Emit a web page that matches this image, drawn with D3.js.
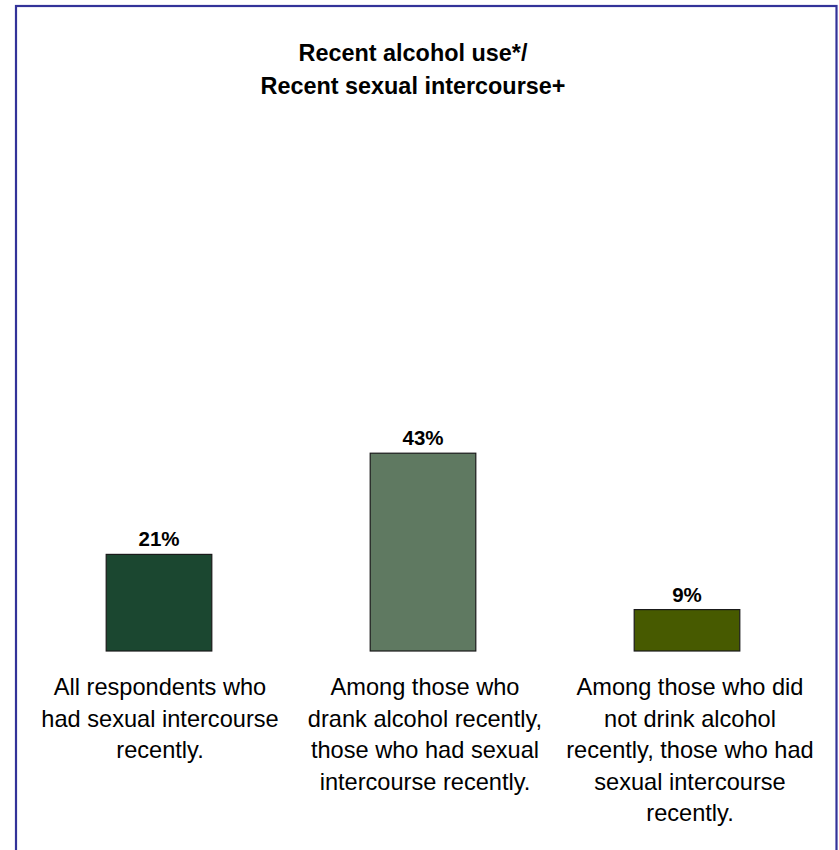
<!DOCTYPE html>
<html>
<head>
<meta charset="utf-8">
<script src="https://cdn.jsdelivr.net/npm/d3@7"></script>
<style>
  html, body { margin: 0; padding: 0; background: #fff; }
  svg { display: block; }
</style>
</head>
<body>
<svg id="chart" width="839" height="850"></svg>
<script>
const titleLines = ["Recent alcohol use*/", "Recent sexual intercourse+"];
const categories = ["all", "drank", "notdrank"];
const categoryLabels = [
  ["All respondents who", "had sexual intercourse", "recently."],
  ["Among those who", "drank alcohol recently,", "those who had sexual", "intercourse recently."],
  ["Among those who did", "not drink alcohol", "recently, those who had", "sexual intercourse", "recently."]
];
const values = [21, 43, 9];
const valueLabels = ["21%", "43%", "9%"];
const barColors = ["#1B4730", "#5F7961", "#475A00"];

const svg = d3.select("#chart");
const font = "'Liberation Sans', Arial, Helvetica, sans-serif";

// frame
svg.append("rect")
  .attr("x", 16).attr("y", 6)
  .attr("width", 820.5).attr("height", 900)
  .attr("fill", "none")
  .attr("stroke", "#333399")
  .attr("stroke-width", 2.2);

// title
svg.append("g").selectAll("text").data(titleLines).join("text")
  .attr("x", 413)
  .attr("y", (d, i) => 61 + i * 33)
  .attr("text-anchor", "middle")
  .attr("font-family", font)
  .attr("font-weight", "bold")
  .attr("font-size", "23.4px")
  .attr("fill", "#000")
  .text(d => d);

const x = d3.scaleBand()
  .domain(categories)
  .range([27, 819])
  .paddingInner(0.6)
  .paddingOuter(0.3);

const y = d3.scaleLinear()
  .domain([0, 100])
  .range([651, 191]);

const g = svg.append("g");

g.selectAll("rect.bar").data(values).join("rect")
  .attr("class", "bar")
  .attr("x", (d, i) => x(categories[i]))
  .attr("y", d => y(d))
  .attr("width", x.bandwidth())
  .attr("height", d => y(0) - y(d))
  .attr("fill", (d, i) => barColors[i])
  .attr("stroke", "#1a1a1a")
  .attr("stroke-width", 1.2);

g.selectAll("text.val").data(values).join("text")
  .attr("class", "val")
  .attr("x", (d, i) => x(categories[i]) + x.bandwidth() / 2)
  .attr("y", d => y(d) - 8)
  .attr("text-anchor", "middle")
  .attr("font-family", font)
  .attr("font-weight", "bold")
  .attr("font-size", "20.5px")
  .attr("fill", "#000")
  .text((d, i) => valueLabels[i]);

const lab = g.selectAll("text.cat").data(categoryLabels).join("text")
  .attr("class", "cat")
  .attr("text-anchor", "middle")
  .attr("font-family", font)
  .attr("font-size", "23.6px")
  .attr("fill", "#000");

lab.each(function(lines, i) {
  const cx = x(categories[i]) + x.bandwidth() / 2 + (i === 2 ? 3 : (i === 1 ? 2 : 1));
  d3.select(this).selectAll("tspan").data(lines).join("tspan")
    .attr("x", cx)
    .attr("y", (d, j) => 695 + j * 31.5)
    .text(d => d);
});
</script>
</body>
</html>
